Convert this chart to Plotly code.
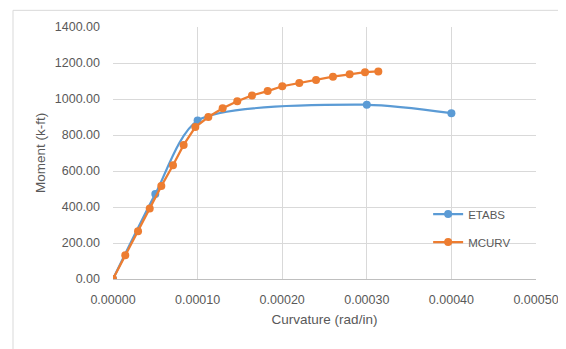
import plotly.graph_objects as go

etabs_x = [0.0, 0.00005, 0.0001, 0.0003, 0.0004]
etabs_y = [0.0, 472.0, 880.0, 968.0, 921.0]

mcurv_x = [0.0, 0.0000145, 0.0000296, 0.0000434, 0.0000571, 0.0000709, 0.0000835,
           0.0000973, 0.0001127, 0.0001296, 0.0001469, 0.0001643, 0.0001828,
           0.0002001, 0.0002202, 0.00024, 0.00026, 0.0002797, 0.0002979, 0.0003136]
mcurv_y = [0.0, 132.0, 265.0, 392.0, 516.0, 632.0, 745.0, 844.0, 900.0, 948.0,
           988.0, 1020.0, 1044.0, 1071.0, 1089.0, 1106.0, 1124.0, 1137.0, 1149.0, 1153.0]

x_ticks = [0.0, 0.0001, 0.0002, 0.0003, 0.0004, 0.0005]
y_ticks = [0, 200, 400, 600, 800, 1000, 1200, 1400]

BLUE = "#5B9BD5"
ORANGE = "#ED7D31"
TXT = "#595959"
GRID = "#D9D9D9"
FONT = "Liberation Sans"

fig = go.Figure()
fig.add_trace(go.Scatter(
    x=etabs_x, y=etabs_y, name="ETABS", mode="lines+markers",
    line=dict(color=BLUE, width=2.25, shape="spline", smoothing=0.75),
    marker=dict(color=BLUE, size=8), legendgroup="a",
))
fig.add_trace(go.Scatter(
    x=mcurv_x, y=mcurv_y, name="MCURV", mode="lines+markers",
    line=dict(color=ORANGE, width=2.25),
    marker=dict(color=ORANGE, size=8), legendgroup="b",
))

fig.update_layout(
    width=566, height=349,
    margin=dict(l=105, r=38, t=14, b=78),
    paper_bgcolor="white", plot_bgcolor="white",
    font=dict(family=FONT, size=12, color=TXT),
    showlegend=True,
    legend=dict(x=0.745, y=0.315, xanchor="left", yanchor="top",
                bgcolor="rgba(0,0,0,0)", font=dict(size=11.5, color=TXT),
                tracegroupgap=9, traceorder="grouped"),
    shapes=[dict(type="rect", xref="paper", yref="paper",
                 x0=-0.2364, x1=1.0686, y0=-0.3, y1=1.0661,
                 line=dict(color=GRID, width=1), layer="below")],
)
fig.update_xaxes(
    range=[0, 0.0005], tickvals=x_ticks, tickformat=".5f",
    showgrid=True, gridcolor=GRID, gridwidth=1,
    showline=True, linecolor="#BFBFBF", linewidth=1,
    zeroline=False, ticks="", ticklabelstandoff=9,
    title=dict(text="Curvature (rad/in)", font=dict(size=13.5, color=TXT), standoff=8),
    tickfont=dict(size=12.5, color=TXT),
)
fig.update_yaxes(
    range=[0, 1400], tickvals=y_ticks, tickformat=".2f",
    showgrid=True, gridcolor=GRID, gridwidth=1,
    showline=False, zeroline=False, ticks="", ticklabelstandoff=12,
    title=dict(text="Moment (k-ft)", font=dict(size=13.5, color=TXT), standoff=6),
    tickfont=dict(size=12.5, color=TXT),
)

fig.write_html("out.html")
